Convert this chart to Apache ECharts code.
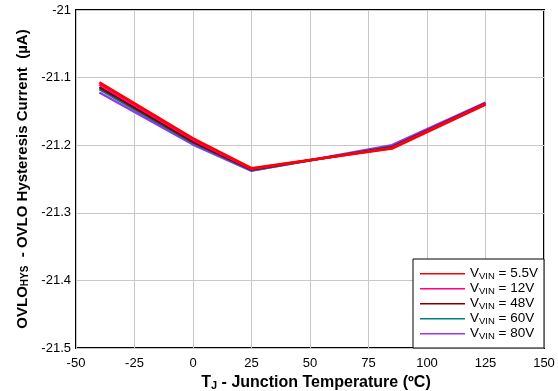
<!DOCTYPE html>
<html>
<head>
<meta charset="utf-8">
<script src="https://cdn.jsdelivr.net/npm/echarts@6/dist/echarts.min.js"></script>
<style>
html,body{margin:0;padding:0;background:#fff;}
#chart{width:558px;height:391px;}
</style>
</head>
<body>
<div id="chart"></div>
<script>
// Junction temperature (°C) at which the hysteresis current was measured
const temps = [-40, 0, 25, 85, 125];

// OVLO hysteresis current (µA) for each supply voltage
const vin5p5 = [-21.107, -21.190, -21.234, -21.205, -21.140];
const vin12  = [-21.110, -21.192, -21.235, -21.204, -21.139];
const vin48  = [-21.114, -21.195, -21.236, -21.203, -21.138];
const vin60  = [-21.117, -21.197, -21.237, -21.202, -21.138];
const vin80  = [-21.122, -21.199, -21.238, -21.200, -21.137];

const seriesNames = ['5.5V', '12V', '48V', '60V', '80V'];
const seriesData = [vin5p5, vin12, vin48, vin60, vin80];
const colors = ['#FF0000', '#FF0080', '#800000', '#008080', '#9933FF'];

const font = 'Liberation Sans, Arial, sans-serif';

const chart = echarts.init(document.getElementById('chart'));

chart.setOption({
  animation: false,
  backgroundColor: '#fff',
  grid: {
    left: 76, right: 14, top: 10, bottom: 43,
    outerBoundsMode: 'none',
    containLabel: false,
    show: true, borderColor: '#000', borderWidth: 2, backgroundColor: 'transparent'
  },
  xAxis: {
    type: 'value', min: -50, max: 150, interval: 25,
    axisLine: { show: false },
    axisTick: { show: false },
    splitLine: { show: true, lineStyle: { color: '#C8C8C8', width: 1 } },
    axisLabel: { color: '#000', fontSize: 13, fontFamily: font, margin: 9 },
    name: '{b|T}{s|J}{b| - Junction Temperature (ºC)}',
    nameLocation: 'middle', nameGap: 18,
    nameTextStyle: {
      padding: [0, 0, 0, 12],
      rich: {
        b: { fontSize: 16, fontWeight: 'bold', fontFamily: font, color: '#000' },
        s: { fontSize: 11, fontWeight: 'bold', fontFamily: font, color: '#000', verticalAlign: 'bottom', padding: [6, 0, 0, 0] }
      }
    }
  },
  yAxis: {
    type: 'value', min: -21.5, max: -21, interval: 0.1,
    axisLine: { show: false },
    axisTick: { show: false },
    splitLine: { show: true, lineStyle: { color: '#C8C8C8', width: 1 } },
    axisLabel: { color: '#000', fontSize: 13, fontFamily: font, margin: 5,
      formatter: v => String(Math.round(v * 10) / 10) },
    name: '{b|OVLO}{s|HYS}{b|  - OVLO Hysteresis Current  (µA)}',
    nameLocation: 'middle', nameGap: 40, nameRotate: 90,
    nameTextStyle: {
      rich: {
        b: { fontSize: 15, fontWeight: 'bold', fontFamily: font, color: '#000' },
        s: { fontSize: 10, fontWeight: 'bold', fontFamily: font, color: '#000', verticalAlign: 'bottom', padding: [6, 0, 0, 0] }
      }
    }
  },
  legend: {
    orient: 'vertical',
    right: 14, bottom: 43,
    backgroundColor: '#fff',
    borderColor: '#000', borderWidth: 1, borderRadius: 0,
    padding: [7, 6, 7, 7],
    itemWidth: 45, itemHeight: 10, itemGap: 0,
    itemStyle: { borderWidth: 0 },
    data: seriesNames.map((n, i) => ({
      name: n,
      icon: 'path://M0,4.2 L45,4.2 L45,5.8 L0,5.8 Z',
      itemStyle: { color: colors[i] }
    })),
    formatter: name => '{v|V}{s|VIN}{v| = ' + name + '}',
    textStyle: {
      lineHeight: 14.5,
      rich: {
        v: { fontSize: 13.5, fontFamily: font, color: '#000', lineHeight: 14.5 },
        s: { fontSize: 9.5, fontFamily: font, color: '#000', lineHeight: 14.5, verticalAlign: 'bottom', padding: [5, 0, 0, 0] }
      }
    }
  },
  series: seriesData.map((d, i) => ({
    name: seriesNames[i],
    type: 'line',
    data: temps.map((t, j) => [t, d[j]]),
    showSymbol: false,
    symbol: 'none',
    lineStyle: { color: colors[i], width: 2.5 },
    itemStyle: { color: colors[i] },
    z: 10 - i
  }))
});
</script>
</body>
</html>
